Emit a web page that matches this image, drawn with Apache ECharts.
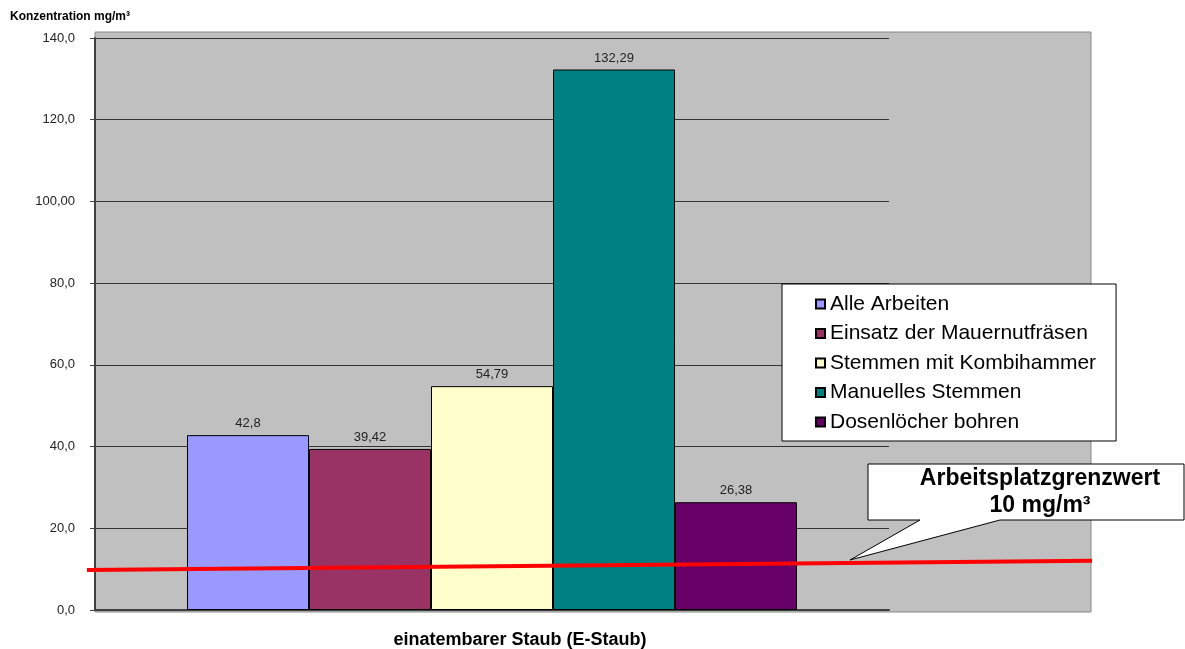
<!DOCTYPE html>
<html>
<head>
<meta charset="utf-8">
<script src="https://cdn.jsdelivr.net/npm/echarts@6/dist/echarts.min.js"></script>
<style>
html,body{margin:0;padding:0;background:#fff;}
#c{width:1185px;height:649px;}
</style>
</head>
<body>
<div id="c"></div>
<script>
const categories = ['einatembarer Staub (E-Staub)'];
const seriesNames = ['Alle Arbeiten', 'Einsatz der Mauernutfräsen', 'Stemmen mit Kombihammer', 'Manuelles Stemmen', 'Dosenlöcher bohren'];
const seriesValues = [42.8, 39.42, 54.79, 132.29, 26.38];
const seriesColors = ['#9999FF', '#993366', '#FFFFCC', '#008080', '#660066'];
const yTickLabels = ['0,0', '20,0', '40,0', '60,0', '80,0', '100,00', '120,0', '140,0'];
const limitLine = [[0, 10.0], [1, 12.3]];
const limitLabel = ['Arbeitsplatzgrenzwert', '10 mg/m³'];
const yAxisTitle = 'Konzentration mg/m³';

const FONT = 'Arial, "Liberation Sans", sans-serif';
const chart = echarts.init(document.getElementById('c'));

const barSeries = seriesNames.map((name, i) => ({
  name: name,
  type: 'bar',
  xAxisIndex: 0,
  yAxisIndex: 0,
  barWidth: 122,
  barGap: '0%',
  data: [seriesValues[i]],
  itemStyle: { color: seriesColors[i], borderColor: '#000', borderWidth: 1 },
  label: {
    show: true, position: 'top', distance: 5,
    fontFamily: FONT, fontSize: 13, color: '#222',
    formatter: p => String(p.value).replace('.', ',')
  },
  z: 2
}));

const option = {
  animation: false,
  backgroundColor: '#fff',
  grid: [
    { left: 95, right: 296, top: 38, bottom: 38, containLabel: false },
    { left: 87, right: 93, top: 38, bottom: 38, containLabel: false }
  ],
  xAxis: [
    {
      type: 'category', gridIndex: 0, data: categories,
      axisLine: { show: true, lineStyle: { color: '#404040', width: 2 } },
      axisTick: { show: false },
      axisLabel: {
        margin: 21, fontFamily: FONT, fontSize: 18, fontWeight: 'bold', color: '#000',
        padding: [0, 0, 0, 56]
      },
      splitLine: { show: false }
    },
    { type: 'value', gridIndex: 1, min: 0, max: 1, show: false }
  ],
  yAxis: [
    {
      type: 'value', gridIndex: 0, min: 0, max: 140, interval: 20,
      name: yAxisTitle, nameLocation: 'end',
      nameTextStyle: { fontFamily: FONT, fontSize: 12, fontWeight: 'bold', color: '#000', align: 'left', padding: [0, 0, 0, -85] },
      nameGap: 15,
      axisLine: { show: true, lineStyle: { color: '#404040', width: 2 } },
      axisTick: { show: true, length: 5, lineStyle: { color: '#404040' } },
      axisLabel: {
        margin: 20, fontFamily: FONT, fontSize: 13, color: '#222',
        formatter: v => yTickLabels[Math.round(v / 20)]
      },
      splitLine: { show: true, lineStyle: { color: '#333', width: 1 } }
    },
    { type: 'value', gridIndex: 1, min: 0, max: 140, show: false }
  ],
  legend: {
    orient: 'vertical',
    left: 782, top: 284,
    padding: [8, 20, 7, 33],
    itemGap: 5.5,
    itemWidth: 9, itemHeight: 9,
    icon: 'rect',
    backgroundColor: '#fff',
    borderColor: '#000', borderWidth: 1,
    textStyle: { fontFamily: FONT, fontSize: 21, color: '#000', lineHeight: 24 },
    data: seriesNames,
    z: 6
  },
  graphic: [
    {
      type: 'rect', z: -10,
      shape: { x: 95, y: 32, width: 996, height: 580 },
      style: { fill: '#C0C0C0', stroke: '#888', lineWidth: 1 }
    },
    {
      type: 'polygon', z: 20,
      shape: { points: [[868, 464], [1184, 464], [1184, 520], [1000, 520], [850, 560], [920, 520], [868, 520]] },
      style: { fill: '#fff', stroke: '#000', lineWidth: 1 }
    },
    {
      type: 'text', z: 21, x: 1040, y: 479,
      style: { text: limitLabel[0], font: 'bold 23px ' + FONT, fill: '#000', textAlign: 'center', textVerticalAlign: 'middle' }
    },
    {
      type: 'text', z: 21, x: 1040, y: 506,
      style: { text: limitLabel[1], font: 'bold 23px ' + FONT, fill: '#000', textAlign: 'center', textVerticalAlign: 'middle' }
    }
  ],
  series: barSeries.concat([{
    name: 'Grenzwert',
    type: 'line',
    xAxisIndex: 1, yAxisIndex: 1,
    data: limitLine,
    symbol: 'none',
    lineStyle: { color: '#FF0000', width: 4 },
    z: 5,
    silent: true
  }])
};
chart.setOption(option);
</script>
</body>
</html>
